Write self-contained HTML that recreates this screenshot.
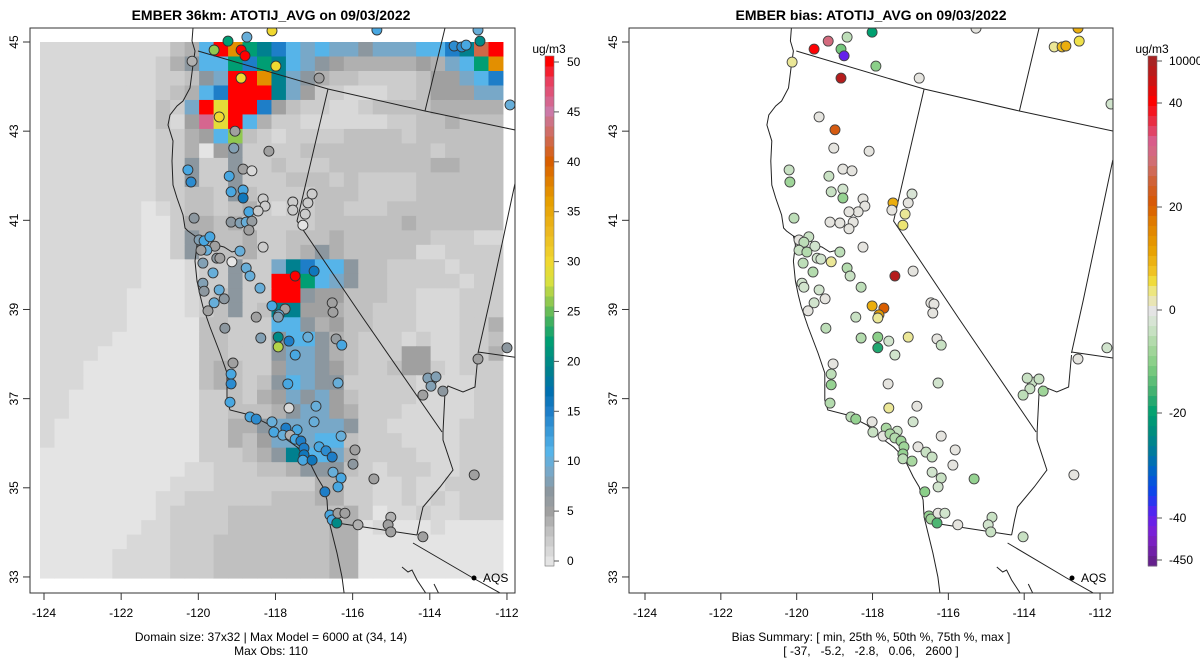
<!DOCTYPE html>
<html><head><meta charset="utf-8"><title>EMBER maps</title>
<style>
html,body{margin:0;padding:0;background:#fff;}
svg{display:block;font-family:"Liberation Sans",Arial,sans-serif;}
</style></head>
<body>
<svg id="fig" width="1200" height="672" viewBox="0 0 1200 672" xmlns="http://www.w3.org/2000/svg">
<defs>
<clipPath id="clipL"><rect x="30" y="28" width="485" height="565"/></clipPath>
<clipPath id="clipR"><rect x="629" y="28" width="484" height="565"/></clipPath>
</defs>
<text x="271" y="20" font-size="14" font-weight="bold" text-anchor="middle">EMBER 36km: ATOTIJ_AVG on 09/03/2022</text>
<text x="871" y="20" font-size="14" font-weight="bold" text-anchor="middle">EMBER bias: ATOTIJ_AVG on 09/03/2022</text>
<g id="gridL" clip-path="url(#clipL)"></g>
<g id="mapL" clip-path="url(#clipL)"></g>
<g id="ptsL" clip-path="url(#clipL)"></g>
<g id="mapR" clip-path="url(#clipR)"></g>
<g id="ptsR" clip-path="url(#clipR)"></g>
<rect x="30" y="28" width="485" height="565" fill="none" stroke="#333" stroke-width="1"/>
<rect x="629" y="28" width="484" height="565" fill="none" stroke="#333" stroke-width="1"/>
<g id="axes" font-size="12" fill="#000"></g>
<g id="cbars" font-size="12"></g>
<text x="271" y="641" font-size="12" text-anchor="middle">Domain size: 37x32 | Max Model = 6000 at (34, 14)</text>
<text x="271" y="655" font-size="12" text-anchor="middle">Max Obs: 110</text>
<text x="871" y="641" font-size="12" text-anchor="middle">Bias Summary: [ min, 25th %, 50th %, 75th %, max ]</text>
<text x="871" y="655" font-size="12" text-anchor="middle" xml:space="preserve">[ -37,   -5.2,   -2.8,   0.06,   2600 ]</text>
</svg>
<script>
// ---------- data ----------
const xTicks = [-124,-122,-120,-118,-116,-114,-112];
const yTicks = [33,35,37,39,41,43,45];
const obsCbTicks = [0,5,10,15,20,25,30,35,40,45,50];
const biasCbTicks = [-450,-40,-20,0,20,40,10000];
const biasCbLabels = ["-450","-40","-20","0","20","40","10000"];
const cellCodes = {a:0,b:1,c:2,d:3,e:4,f:5,g:7,L:9,B:11,D:15,T:19,G:22,H:26,Y:29,O:37,C:42,P:46,R:50};
const gridRows = [
"bbbbbbbbbdeBROGTDBLBLLgLLLBBDTCR",
"bbbbbbbbcegBBGDGTBLgfeeeeefeLBGO",
"bbbbbbbbccdgLRROTLgeddccccdffLBD",
"bbbbbbbbcdeBDRRRTLfccbbbccdfffLL",
"bbbbbbbbdcLRYRRDfdccbbcddddeeeee",
"bbbbbbbbdbfPYRBeccbbbbbbccddeddd",
"bbbbbbbbccefBHdcbccccddddcdddddd",
"bbbbbbbbcceafgccccdddddddddcdddd",
"bbbbbbbbccgccgccdcccdddddddeeddd",
"bbbbbbbbccgccgcccdddcdccccdddddd",
"bbbbbbbbccddcgdccccdddccccdddddd",
"bbbbbbbabcddcdecbccddcccdddddddd",
"bbbbbbbaaceedecccccddddddedddddd",
"bbbbbbbaacgeddeccdddeddddddcccbb",
"bbbbbbbaacgcddeccdegedddddbbcccc",
"bbbbbbbaaabccgccLTDBBgddccccbccc",
"bbbbbbbaaabccgccRRGBLgddcccccbcc",
"bbbbbbaaaabcdgccRRgffdddccbbbccc",
"bbbbbbaaaabcdgcdTTffeddcccbbbccc",
"bbbbbbaaaaaddcccBBgefddcccbbbcce",
"bbbbbaaaaaaddcccgBBgedcccbcbbccd",
"bbbbaaaaaaaddcccgLLgedcccffbbcce",
"bbbaaaaaaaadedccfLLgfdccdffcbccc",
"bbbaaaaaaaadedcdgBLggcccccbbbbcc",
"bbaaaaaaaaaccdcefLgLfdccccbbbbcc",
"bbaaaaaaaaaccdddegLLfecccbbbbbcc",
"baaaaaaaaaacceegLLLLLgccbbbbbccc",
"baaaaaaaaaaccedfLLLBBdcccbbbbccc",
"aaaaaaaaaaacccdegTBBLeccccbbbccc",
"aaaaaaaaaabbcccddegggdcbcccbbccc",
"aaaaaaaaabbbccccccceeccbbcbbcccc",
"aaaaaaaabbccccccdddeeccbbcbcbccc",
"aaaaaaaabccccddddddddecabbcbbccc",
"aaaaaaabbccccdddddddeeabaaabaaaa",
"aaaaaabbbcccddddddddeeaaaaaaaaaa",
"aaaaabbbbcccddddddddeeaaaaaaaaaa",
"aaaaabbbbcccddddddddeeaaaaaaaaaa"
];
const gridLon0 = -124.104, gridDLon = 0.375, gridLat0 = 45.0, gridDLat = 0.325;

const obsLon = [-119.23,-118.74,-118.09,-119.59,-118.89,-118.79,-120.16,-117.99,-118.89,-116.87,-119.46,-119.05,-119.08,-118.17,-120.27,-120.19,-118.84,-118.61,-119.20,-119.15,-118.84,-118.84,-118.32,-118.27,-117.05,-117.16,-117.55,-117.55,-117.23,-117.29,-118.69,-118.45,-120.11,-119.15,-118.92,-118.76,-118.61,-118.69,-119.98,-119.85,-119.70,-119.57,-119.78,-119.93,-118.92,-118.32,-119.52,-119.44,-119.88,-119.13,-118.76,-119.62,-118.66,-119.88,-118.40,-119.85,-119.46,-119.33,-119.59,-119.75,-117.49,-117.00,-116.53,-116.51,-118.09,-117.75,-117.91,-115.37,-112.75,-113.37,-113.17,-113.06,-112.70,-111.92,-118.50,-117.93,-119.31,-118.38,-117.93,-117.65,-117.16,-117.93,-116.43,-116.28,-117.49,-119.10,-119.15,-119.15,-117.68,-116.38,-113.94,-114.05,-113.84,-113.97,-114.18,-113.66,-112.75,-112.00,-119.18,-117.65,-116.95,-118.66,-118.50,-117.00,-118.09,-117.73,-117.44,-118.04,-117.81,-117.62,-117.49,-117.34,-116.30,-117.26,-116.87,-116.69,-116.53,-117.26,-117.29,-117.05,-115.94,-115.99,-116.51,-116.30,-116.38,-116.72,-115.45,-112.85,-116.59,-116.53,-116.41,-116.38,-116.20,-115.86,-115.01,-115.08,-115.01,-114.18];
const obsLat = [45.02,45.11,45.25,44.82,44.82,44.69,44.57,44.46,44.19,44.19,43.32,43.00,42.62,42.55,42.13,41.86,42.15,42.11,41.99,41.64,41.68,41.50,41.48,41.32,41.59,41.39,41.41,41.23,41.14,40.89,41.19,41.21,41.05,40.96,40.94,40.96,40.98,40.78,40.56,40.54,40.63,40.42,40.33,40.33,40.31,40.40,40.15,40.15,40.04,40.07,39.93,39.82,39.75,39.59,39.48,39.41,39.44,39.24,39.15,38.97,39.75,39.86,39.15,38.94,39.08,39.01,38.88,45.27,45.27,44.91,44.89,44.93,45.02,43.59,38.83,38.83,38.58,38.36,38.38,38.29,38.38,38.16,38.34,38.20,37.98,37.80,37.55,37.33,37.33,37.35,37.42,37.46,37.49,37.28,37.08,37.17,37.89,38.14,36.92,36.79,36.83,36.59,36.54,36.48,36.48,36.34,36.30,36.25,36.18,36.18,36.09,36.05,36.16,35.89,35.92,35.83,35.69,35.74,35.62,35.62,35.85,35.53,35.35,35.22,35.02,34.91,35.20,35.29,34.39,34.28,34.21,34.43,34.43,34.17,34.34,34.17,34.01,33.90];
const obsVal = [22,10,30,26,50,50,4,30,30,5,30,5,8,5,12,14,5,1,12,12,12,16,2,2,2,2,2,2,2,0,12,2,7,7,8,10,6,5,8,12,12,5,10,5,10,2,7,5,8,0,10,10,10,8,10,7,10,7,10,5,50,16,5,5,12,5,10,12,10,14,14,12,20,10,5,8,7,8,20,15,10,27,6,12,12,5,12,14,12,10,8,8,8,8,5,7,5,7,12,1,10,12,14,10,10,15,12,12,10,4,12,15,10,15,12,14,15,16,12,16,5,7,10,12,12,15,5,5,12,12,20,5,5,4,4,5,5,5];

const biasLon = [-118.01,-115.27,-112.58,-118.67,-119.17,-119.54,-118.83,-118.75,-117.91,-120.12,-118.83,-116.77,-113.21,-113.00,-112.90,-112.55,-111.71,-119.41,-118.99,-119.02,-118.09,-120.20,-120.18,-118.78,-118.54,-119.15,-119.09,-118.78,-118.78,-118.25,-118.20,-117.46,-116.96,-117.06,-117.49,-117.14,-117.20,-120.07,-118.38,-118.62,-119.12,-118.86,-118.51,-118.62,-119.68,-119.94,-119.81,-119.52,-119.94,-119.73,-118.86,-119.46,-119.36,-119.83,-119.09,-118.25,-119.57,-118.67,-118.59,-119.86,-118.30,-119.41,-119.25,-119.81,-119.54,-119.70,-117.41,-116.93,-116.46,-116.38,-116.41,-118.01,-117.70,-117.83,-118.44,-117.86,-119.23,-118.30,-117.86,-117.57,-117.06,-116.30,-116.19,-117.86,-117.41,-119.04,-119.09,-119.09,-117.59,-116.27,-113.79,-113.92,-113.61,-113.85,-114.03,-113.50,-112.58,-111.82,-119.12,-117.57,-116.83,-118.57,-118.44,-118.01,-116.93,-117.64,-117.35,-117.99,-117.72,-117.54,-117.41,-117.25,-116.19,-117.17,-116.80,-115.82,-116.59,-116.43,-117.20,-117.20,-116.96,-115.88,-116.43,-116.19,-116.27,-115.32,-112.69,-116.62,-116.51,-116.46,-116.27,-116.09,-116.30,-115.75,-114.85,-114.95,-114.88,-114.03];
const biasLat = [45.22,45.31,45.31,45.11,45.02,44.84,44.84,44.69,44.46,44.55,44.19,44.19,44.89,44.89,44.91,45.02,43.61,43.32,43.03,42.62,42.55,42.13,41.86,42.15,42.11,41.99,41.64,41.70,41.50,41.48,41.32,41.39,41.59,41.39,41.23,41.14,40.89,41.05,41.19,41.19,40.96,40.94,40.96,40.81,40.63,40.56,40.51,40.42,40.33,40.29,40.29,40.15,40.13,40.04,40.07,40.40,39.84,39.93,39.75,39.59,39.50,39.44,39.24,39.50,39.15,38.97,39.75,39.86,39.15,39.12,38.92,39.08,39.03,38.88,38.83,38.81,38.58,38.36,38.38,38.29,38.38,38.34,38.20,38.14,37.98,37.78,37.55,37.31,37.33,37.35,37.37,37.46,37.44,37.22,37.08,37.17,37.89,38.14,36.90,36.79,36.83,36.59,36.54,36.48,36.48,36.34,36.27,36.25,36.16,36.21,36.12,36.05,36.16,35.92,35.92,35.85,35.80,35.69,35.76,35.65,35.60,35.51,35.35,35.22,35.02,35.20,35.29,34.91,34.37,34.30,34.43,34.43,34.21,34.17,34.34,34.17,34.01,33.90];
const biasVal = [-20,0,10,-5,30,45,-12,-40,-10,3,8000,0,3,8,10,5,-3,0,22,0,0,-4,-8,0,0,-4,-4,-3,-9,0,0,10,-2,0,0,3,4,-5,0,0,0,0,0,0,-4,0,-5,-3,-4,-6,-5,-3,-3,-5,3,0,-6,-6,-4,-3,-5,-3,0,-3,-3,0,8000,0,0,0,0,10,20,12,-4,3,-5,-6,-10,-3,3,0,-4,-18,-3,0,-5,-9,0,-3,-4,-4,-4,-4,-5,-8,0,-3,-6,3,0,-5,-9,0,-3,-7,-4,-4,0,-7,-6,-8,0,-8,0,0,-4,-4,-9,-5,-7,0,-3,-4,-3,-9,0,-10,-9,-8,0,-3,-15,0,-4,-3,-4,-4];

// ---------- scales ----------
const yPix = lat => 42 + (45 - lat) * 44.58;
const xL = lon => 44 + (lon + 124) * 38.58;
const xR = lon => 645 + (lon + 124) * 37.92;
const NS = "http://www.w3.org/2000/svg";
function mk(tag, attrs, parent){const e=document.createElementNS(NS,tag);for(const k in attrs)e.setAttribute(k,attrs[k]);parent.appendChild(e);return e;}
function hex(c){return [parseInt(c.substr(1,2),16),parseInt(c.substr(3,2),16),parseInt(c.substr(5,2),16)];}
function interp(stops, v){
  if(v<=stops[0][0])return stops[0][1];
  for(let i=1;i<stops.length;i++){if(v<=stops[i][0]){const t=(v-stops[i-1][0])/(stops[i][0]-stops[i-1][0]);const a=hex(stops[i-1][1]),b=hex(stops[i][1]);return "rgb("+a.map((x,j)=>Math.round(x+(b[j]-x)*t)).join(",")+")";}}
  return stops[stops.length-1][1];
}
const obsStops=[[0,"#e4e4e4"],[1,"#d8d8d8"],[2,"#cccccc"],[3,"#c0c0c0"],[4,"#b0b0b0"],[5,"#a0a0a0"],[7,"#8c979f"],[9,"#78a8c8"],[11,"#56b4e9"],[13,"#3a9ad8"],[15,"#1e7ec8"],[17,"#0070b0"],[19,"#00808f"],[22,"#009e73"],[24,"#40b060"],[26,"#90c850"],[28,"#d8e040"],[30,"#f0d830"],[33,"#ecb820"],[36,"#e69f00"],[40,"#d85e00"],[42,"#d06848"],[45,"#cc79a7"],[48,"#e84060"],[50,"#ff0000"]];
const obsColor = v => interp(obsStops, v);
const biasFracStops=[[0,"#a02828"],[0.04,"#c01818"],[0.09,"#ff0000"],[0.13,"#e83048"],[0.17,"#d86090"],[0.21,"#d07070"],[0.25,"#d06030"],[0.29,"#d85800"],[0.33,"#e08000"],[0.38,"#e8a000"],[0.42,"#f0c020"],[0.445,"#f0e040"],[0.465,"#ece890"],[0.485,"#e8e4c0"],[0.50,"#e4e4e4"],[0.53,"#d0e4cc"],[0.57,"#a8d8a0"],[0.61,"#80cc80"],[0.66,"#40b070"],[0.70,"#00a070"],[0.74,"#008c80"],[0.78,"#0078a0"],[0.82,"#0060d0"],[0.86,"#1040f0"],[0.90,"#6020f0"],[0.94,"#8020d0"],[1.0,"#602080"]];
const biasBreakY=[560,518,413,310,207,103,61];
function biasY(v){const b=biasCbTicks;if(v<=b[0])return biasBreakY[0];for(let i=1;i<b.length;i++){if(v<=b[i]){const t=(v-b[i-1])/(b[i]-b[i-1]);return biasBreakY[i-1]+(biasBreakY[i]-biasBreakY[i-1])*t;}}return biasBreakY[biasBreakY.length-1];}
const biasColor = v => interp(biasFracStops,(biasY(v)-56)/510);

// ---------- grid ----------
const gG=document.getElementById("gridL");
gridRows.forEach((row,r)=>{for(let c=0;c<row.length;c++){
  const lonA=gridLon0+c*gridDLon, lonB=lonA+gridDLon, latA=gridLat0-r*gridDLat, latB=latA-gridDLat;
  const x0=xL(lonA),x1=xL(lonB),y0=yPix(latA),y1=yPix(latB);
  const cell=mk("rect",{x:x0.toFixed(2),y:y0.toFixed(2),width:(x1-x0+0.5).toFixed(2),height:(y1-y0+0.5).toFixed(2),fill:obsColor(cellCodes[row[c]])},gG);
  
  
}});

// ---------- basemap (traced outlines, left-panel pixel frame) ----------
const basePaths=[
 [[193,28],[192,41],[195,51],[193,65],[190,88],[183,101],[177,106],[170,115],[168,125],[173,141],[172,161],[173,185],[177,198],[183,215],[185,228],[188,231],[195,236],[197,245],[195,261],[197,281],[200,295],[203,307],[210,327],[220,353],[227,373],[227,400],[230,410],[250,415],[270,425],[283,437],[297,447],[307,457],[317,477],[323,487],[327,500],[328,517],[332,533],[337,553],[342,577],[345,600]],
 [[195,236],[203,240],[210,238],[216,245],[224,247],[232,252],[240,250]],
 [[198,51],[328,89],[425,111],[520,131]],
 [[328,89],[297,221],[363,318],[442,432]],
 [[478,355],[475,387],[463,392],[448,386],[445,392],[443,432],[443,440],[453,470],[440,487],[423,507],[420,520],[417,535]],
 [[337,523],[417,535]],
 [[413,543],[473,578],[520,604]],
 [[445,28],[425,111]],
 [[520,160],[490,300],[478,353]],
 [[478,352],[520,358]],
 [[402,567],[408,572],[412,570],[417,580],[427,595]],
 [[434,584],[437,590],[442,600]]
];
function drawMap(gid, tx){
  const g=document.getElementById(gid);
  basePaths.forEach(p=>{const ln=mk("polyline",{points:p.map(q=>tx(q[0]).toFixed(1)+","+q[1]).join(" "),fill:"none",stroke:"#222","stroke-width":"1"},g);
    
    });
  return g;
}
const gmL=drawMap("mapL",x=>x);
const gmR=drawMap("mapR",x=>645+(x-44)*(455/463));
// AQS marker
[[gmL,474,"aqs-marker-left"],[gmR,1072,"aqs-marker-right"]].forEach(a=>{
  const d=mk("circle",{cx:a[1],cy:578,r:2.5,fill:"#000"},a[0]);
  
  
  const t=mk("text",{x:a[1]+9,y:582,"font-size":"12"},a[0]);t.textContent="AQS";
  
  
});

// ---------- points ----------
const gpL=document.getElementById("ptsL");
obsVal.forEach((v,i)=>{const c=mk("circle",{cx:xL(obsLon[i]).toFixed(1),cy:yPix(obsLat[i]).toFixed(1),r:5,fill:obsColor(v),stroke:"#333","stroke-width":"0.9"},gpL);
  
  });
const gpR=document.getElementById("ptsR");
biasVal.forEach((v,i)=>{const c=mk("circle",{cx:xR(biasLon[i]).toFixed(1),cy:yPix(biasLat[i]).toFixed(1),r:5,fill:biasColor(v),stroke:"#444","stroke-width":"0.9"},gpR);
  
  });

// ---------- axes ----------
const ga=document.getElementById("axes");
[[xL,30,"left"],[xR,629,"right"]].forEach(([fx,bx,side])=>{
  xTicks.forEach(t=>{const x=fx(t);
    const tk=mk("line",{x1:x,y1:593,x2:x,y2:600,stroke:"#333"},ga);
    
    
    const lb=mk("text",{x:x,y:617,"text-anchor":"middle"},ga);lb.textContent=String(t);
    
    });
  yTicks.forEach(t=>{const y=yPix(t);
    const tk=mk("line",{x1:bx,y1:y,x2:bx-7,y2:y,stroke:"#333"},ga);
    
    
    const lx=bx-12;
    const lb=mk("text",{x:lx,y:y,"text-anchor":"middle",transform:"rotate(-90 "+lx+" "+y+")"},ga);lb.textContent=String(t);
    
    });
});

// ---------- colorbars ----------
const gc=document.getElementById("cbars");
for(let k=0;k<51;k++){const y0=566-(k+1)*10;const r=mk("rect",{x:545,y:y0,width:9,height:10.5,fill:obsColor(k)},gc);
  
  }
mk("rect",{x:545,y:56,width:9,height:510,fill:"none",stroke:"#777","stroke-width":"0.6"},gc);
obsCbTicks.forEach(v=>{const y=561-v*9.98;
  mk("line",{x1:554,y1:y,x2:559,y2:y,stroke:"#555"},gc);
  const t=mk("text",{x:567,y:y+4},gc);t.textContent=String(v);
  
  });
const u1=mk("text",{x:549,y:53,"text-anchor":"middle"},gc);u1.textContent="ug/m3";


for(let k=0;k<51;k++){const y0=56+k*10;const r=mk("rect",{x:1148,y:y0,width:9,height:10.5,fill:interp(biasFracStops,(k+0.5)/51)},gc);
  
  }
mk("rect",{x:1148,y:56,width:9,height:510,fill:"none",stroke:"#777","stroke-width":"0.6"},gc);
biasCbTicks.forEach((v,i)=>{const y=biasY(v);
  mk("line",{x1:1157,y1:y,x2:1162,y2:y,stroke:"#555"},gc);
  const t=mk("text",{x:1169,y:y+4},gc);t.textContent=biasCbLabels[i];
  
  });
const u2=mk("text",{x:1152,y:53,"text-anchor":"middle"},gc);u2.textContent="ug/m3";


</script>
</body></html>
